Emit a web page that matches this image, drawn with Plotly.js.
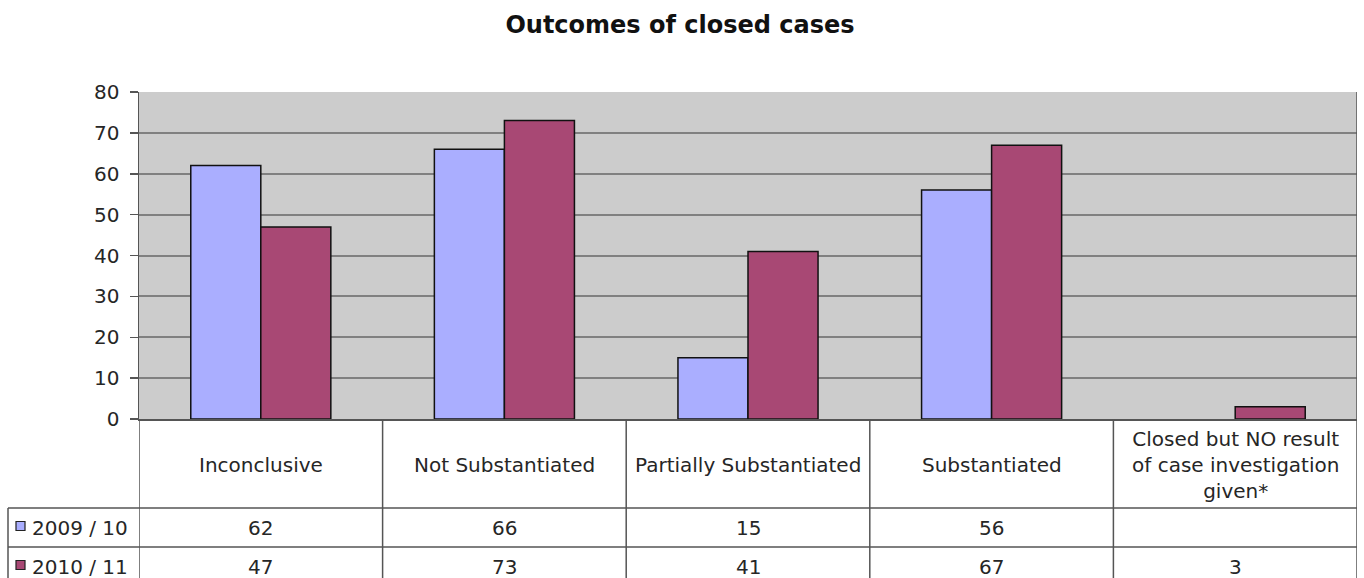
<!DOCTYPE html>
<html>
<head>
<meta charset="utf-8">
<script src="https://cdn.plot.ly/plotly-3.0.1.min.js"></script>
<style>
  html, body { margin: 0; padding: 0; background: #ffffff; }
  #chart { width: 1364px; height: 578px; }
</style>
</head>
<body>
<div id="chart"></div>
<script>
const categories = [
  "Inconclusive",
  "Not Substantiated",
  "Partially Substantiated",
  "Substantiated",
  "Closed but NO result<br>of case investigation<br>given*"
];
const seriesNames = ["2009 / 10", "2010 / 11"];
const values2009 = [62, 66, 15, 56, null];
const values2010 = [47, 73, 41, 67, 3];
const seriesColors = ["#aaaeff", "#a84874"];
const yTicks = [0, 10, 20, 30, 40, 50, 60, 70, 80];

const FONT = "DejaVu Sans, Verdana, sans-serif";
const TXT = "#262626";
const LINE = "#555555";

// plot area in px: 139..1357 x 92..419
const plotTop = 92, plotBottom = 419;
const ph = plotBottom - plotTop;
const py = p => (plotBottom - p) / ph;
const plotLeft = 139, plotRight = 1357;
const pw = plotRight - plotLeft;
const px = p => (p - plotLeft) / pw;

const seriesValues = [values2009, values2010];
const xIdx = categories.map((c, i) => i);

const traces = seriesValues.map((vals, s) => ({
  type: "bar",
  name: seriesNames[s],
  x: xIdx,
  y: vals,
  marker: { color: seriesColors[s], line: { color: "#111111", width: 1.5 } },
  hoverinfo: "y+name"
}));

const shapes = [];
const annotations = [];

// vertical column lines of the data table
for (let i = 0; i <= categories.length; i++) {
  const xv = i - 0.5;
  shapes.push({ type: "line", xref: "x", yref: "paper", x0: xv, x1: xv,
    y0: (i === categories.length) ? 1 : 0, y1: -0.7,
    line: { color: LINE, width: 1.5 } });
}
// left legend column line
shapes.push({ type: "line", xref: "paper", yref: "paper", x0: px(8), x1: px(8),
  y0: py(508), y1: -0.7, line: { color: LINE, width: 1.5 } });
// horizontal row lines
[508, 547].forEach(r => {
  shapes.push({ type: "line", xref: "paper", yref: "paper", x0: px(8), x1: 1,
    y0: py(r), y1: py(r), line: { color: LINE, width: 1.5 } });
});

// category labels
categories.forEach((c, i) => {
  annotations.push({ xref: "x", yref: "paper", x: i, y: py(465), text: c,
    showarrow: false, xanchor: "center", yanchor: "middle", align: "center",
    font: { family: FONT, size: 20, color: TXT } });
});

// table value rows + legend keys
const rowCenters = [528, 567];
seriesValues.forEach((vals, s) => {
  const yc = py(rowCenters[s]);
  vals.forEach((v, i) => {
    if (v === null || v === undefined) return;
    annotations.push({ xref: "x", yref: "paper", x: i, y: yc, text: String(v),
      showarrow: false, xanchor: "center", yanchor: "middle",
      font: { family: FONT, size: 20, color: TXT } });
  });
  annotations.push({ xref: "paper", yref: "paper", x: px(30), y: yc, text: seriesNames[s],
    showarrow: false, xanchor: "left", yanchor: "middle",
    font: { family: FONT, size: 20, color: TXT } });
  shapes.push({ type: "rect", xref: "paper", yref: "paper",
    x0: px(16), x1: px(25), y0: yc + 4.5 / ph + 2 / ph, y1: yc - 4.5 / ph + 2 / ph,
    fillcolor: seriesColors[s], line: { color: "#222222", width: 1.2 } });
});

const layout = {
  width: 1364,
  height: 578,
  margin: { l: plotLeft, r: 1364 - plotRight, t: plotTop, b: 578 - plotBottom, pad: 0 },
  paper_bgcolor: "#ffffff",
  plot_bgcolor: "#cccccc",
  showlegend: false,
  barmode: "group",
  bargap: 0.425,
  bargroupgap: 0,
  title: {
    text: "<b>Outcomes of closed cases</b>",
    x: 680 / 1364, xanchor: "center", xref: "container",
    y: 1 - 25 / 578, yanchor: "middle", yref: "container",
    font: { family: FONT, size: 24, color: "#111111" }
  },
  xaxis: {
    type: "linear",
    range: [-0.5, categories.length - 0.5],
    showticklabels: false,
    ticks: "",
    showgrid: false,
    zeroline: false,
    showline: true,
    linecolor: LINE,
    linewidth: 1.5,
    fixedrange: true
  },
  yaxis: {
    range: [0, 80],
    tickvals: yTicks,
    ticktext: yTicks.map(String),
    ticks: "outside",
    ticklen: 8,
    tickwidth: 1.5,
    tickcolor: LINE,
    ticklabelstandoff: 6,
    showgrid: true,
    gridcolor: "#808080",
    gridwidth: 2,
    zeroline: false,
    showline: true,
    linecolor: LINE,
    linewidth: 1.5,
    tickfont: { family: FONT, size: 20, color: TXT },
    fixedrange: true
  },
  shapes: shapes,
  annotations: annotations
};

Plotly.newPlot("chart", traces, layout, { displayModeBar: false, staticPlot: true });
</script>
</body>
</html>
